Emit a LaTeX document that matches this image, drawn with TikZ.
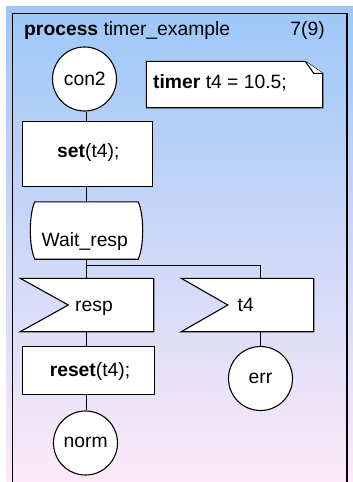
\documentclass[tikz,border=0pt]{standalone}
\usepackage{fontspec}
\setmainfont{Liberation Sans}
\usetikzlibrary{calc}
\definecolor{bgtop}{RGB}{156,199,248}
\definecolor{bgbot}{RGB}{253,233,248}
\tikzset{
  sym/.style={draw=black, line width=1.1pt, fill=white},
  conn/.style={draw=black, line width=1.1pt},
  frameline/.style={draw=black, line width=1.5pt},
  lbl/.style={inner sep=0pt, font=\fontsize{19.3}{23}\selectfont},
  boxnode/.style={rectangle, inner sep=0pt, draw=none},
  conncircle/.style={circle, sym, inner sep=0pt, minimum size=64pt},
}
\begin{document}
\begin{tikzpicture}[x=1pt,y=-1pt]
\useasboundingbox (0,0) rectangle (353,482);
\fill[white] (0,0) rectangle (353,482);
\shade[top color=bgtop, bottom color=bgbot] (6,6) rectangle (353,482);
% frame
\draw[frameline] (12.5,484) -- (12.5,13.5) -- (347,13.5) -- (347,484);
\node[lbl, anchor=base west] (title) at (24,35) {\textbf{process} timer\_example};
\node[lbl, anchor=base east] (page) at (325,35) {7(9)};

% nodes
\node[conncircle] (con2) at (84.5,79) {};
\node[lbl, anchor=base] (con2t) at (84.8,85) {con2};

\node[boxnode, sym, minimum width=130pt, minimum height=65pt] (set) at (87.5,154) {};
\node[lbl, anchor=base] (sett) at (88.3,157.5) {\textbf{set}(t4);};

\node[boxnode, minimum width=176pt, minimum height=46pt] (note) at (234.5,84.5) {};
\path[sym] (note.north west) -- ([xshift=-17.5pt]note.north east) -- ([yshift=-12pt]note.north east) -- (note.south east) -- (note.south west) -- cycle;
\path[sym, line join=miter] ([xshift=-17.5pt]note.north east) -- ([xshift=-9pt,yshift=-12pt]note.north east) -- ([yshift=-12pt]note.north east);
\node[lbl, anchor=base west] (notet) at (153,88.3) {\textbf{timer} t4 = 10.5;};

\node[boxnode, minimum width=112pt, minimum height=57pt] (wait) at (86.5,230.5) {};
\path[sym] ([xshift=4.5pt]wait.north west) -- ([xshift=-4.5pt]wait.north east)
  .. controls ([xshift=1.5pt,yshift=-13pt]wait.north east) and ([xshift=1.5pt,yshift=13pt]wait.south east) .. ([xshift=-4.5pt]wait.south east)
  -- ([xshift=4.5pt]wait.south west)
  .. controls ([xshift=-1.5pt,yshift=13pt]wait.south west) and ([xshift=-1.5pt,yshift=-13pt]wait.north west) .. cycle;
\node[lbl, anchor=base] (waitt) at (84.8,246) {Wait\_resp};

\node[boxnode, minimum width=133pt, minimum height=53pt] (resp) at (87,305) {};
\path[sym] (resp.north west) -- (resp.north east) -- (resp.south east) -- (resp.south west) -- ([xshift=48pt]resp.west) -- cycle;
\node[lbl, anchor=base west] (respt) at (75,311.5) {resp};

\node[boxnode, minimum width=132pt, minimum height=53pt] (tfour) at (247.5,305) {};
\path[sym] (tfour.north west) -- (tfour.north east) -- (tfour.south east) -- (tfour.south west) -- ([xshift=46.5pt]tfour.west) -- cycle;
\node[lbl, anchor=base west] (tfourt) at (237.5,311.5) {t4};

\node[boxnode, sym, minimum width=132pt, minimum height=48pt] (reset) at (88.5,370.5) {};
\node[lbl, anchor=base] (resett) at (90,376.8) {\textbf{reset}(t4);};

\node[conncircle] (norm) at (85.5,443) {};
\node[lbl, anchor=base] (normt) at (85.7,447.3) {norm};

\node[conncircle] (err) at (260.5,378.5) {};
\node[lbl, anchor=base] (errt) at (260.5,383.3) {err};

% connectors
\draw[conn] (con2.south -| 86.5,0) -- (set.north -| 86.5,0);
\draw[conn] (set.south -| 86.5,0) -- (wait.north -| 86.5,0);
\draw[conn] (wait.south -| 86.5,0) -- (resp.north -| 86.5,0);
\coordinate (br) at (86.5,265.5);
\draw[conn] (br) -| (err.north |- tfour.north);
\draw[conn] (resp.south -| 86.5,0) -- (reset.north -| 86.5,0);
\draw[conn] (err.north |- tfour.south) -- (err.north);
\draw[conn] (reset.south -| 86.5,0) -- (norm.north -| 86.5,0);
\end{tikzpicture}
\end{document}
